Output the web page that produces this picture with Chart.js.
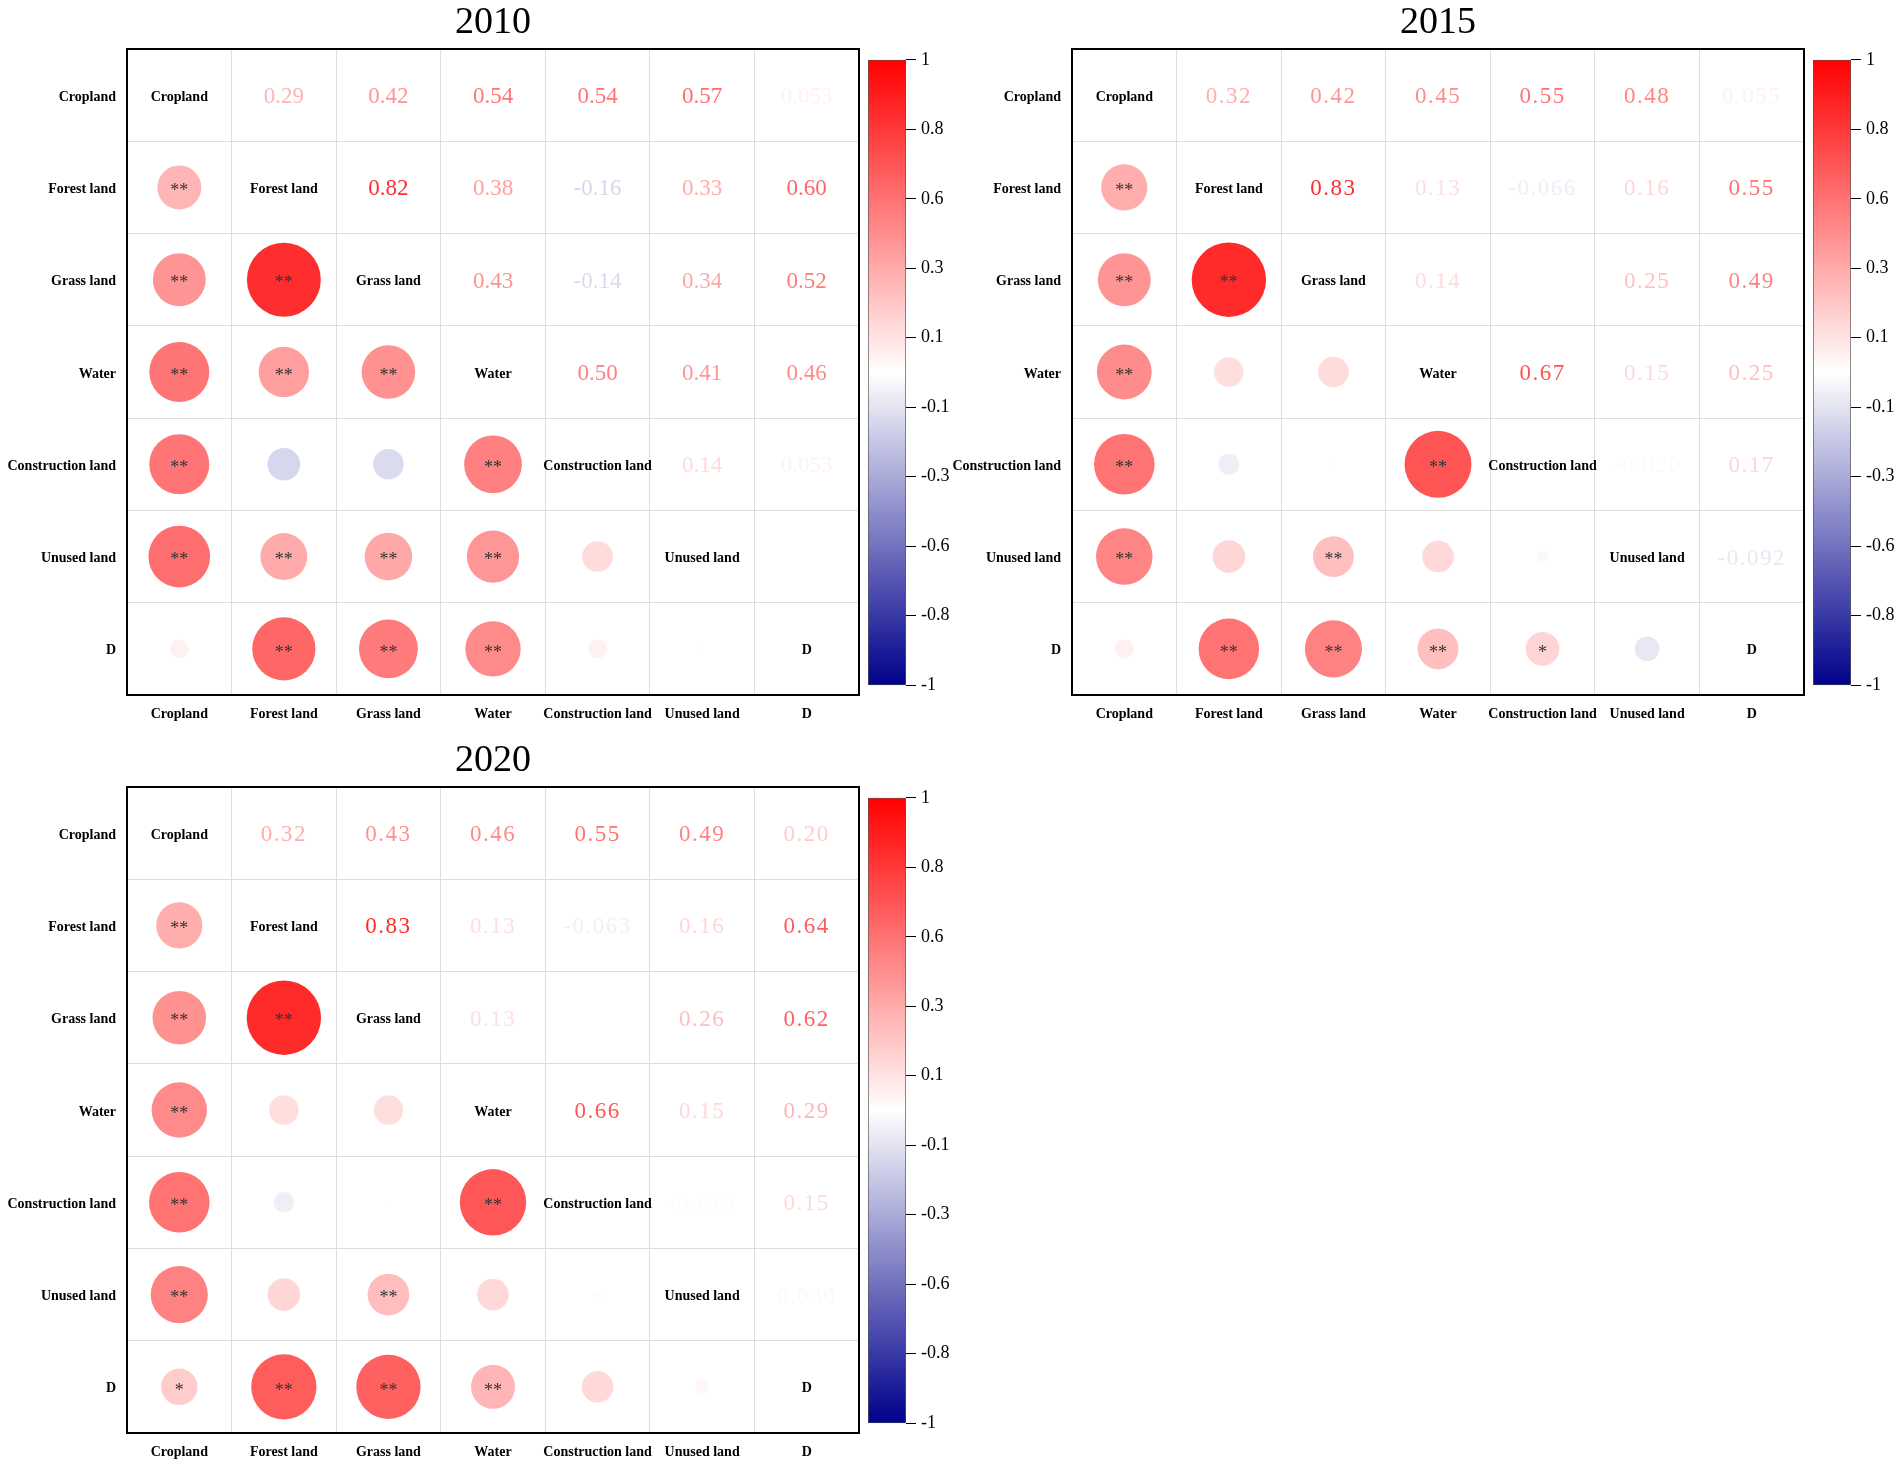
<!DOCTYPE html>
<html>
<head>
<meta charset="utf-8">
<title>Correlation matrices 2010 / 2015 / 2020</title>
<script src="https://cdn.jsdelivr.net/npm/chart.js@4.4.1/dist/chart.umd.min.js"></script>
<style>
  html, body { margin: 0; padding: 0; background: #fff; }
  body { width: 1902px; height: 1465px; position: relative; overflow: hidden; }
  .box { position: absolute; }
</style>
</head>
<body>
<script>
// ====== DATA ======
const landTypes = ["Cropland", "Forest land", "Grass land", "Water", "Construction land", "Unused land", "D"];

// upper triangle: row i holds r(i, j) for j > i
const corr2010 = [
  [0.29, 0.42, 0.54, 0.54, 0.57, 0.053],
  [0.82, 0.38, -0.16, 0.33, 0.60],
  [0.43, -0.14, 0.34, 0.52],
  [0.50, 0.41, 0.46],
  [0.14, 0.053],
  [0.003],
];
const corr2015 = [
  [0.32, 0.42, 0.45, 0.55, 0.48, 0.055],
  [0.83, 0.13, -0.066, 0.16, 0.55],
  [0.14, -0.003, 0.25, 0.49],
  [0.67, 0.15, 0.25],
  [-0.020, 0.17],
  [-0.092],
];
const corr2020 = [
  [0.32, 0.43, 0.46, 0.55, 0.49, 0.20],
  [0.83, 0.13, -0.063, 0.16, 0.64],
  [0.13, 0.003, 0.26, 0.62],
  [0.66, 0.15, 0.29],
  [-0.010, 0.15],
  [0.030],
];

// lower triangle significance marks: row i (from Forest land) holds cols j < i
const sig2010 = [
  ["**"],
  ["**", "**"],
  ["**", "**", "**"],
  ["**", "", "", "**"],
  ["**", "**", "**", "**", ""],
  ["", "**", "**", "**", "", ""],
];
const sig2015 = [
  ["**"],
  ["**", "**"],
  ["**", "", ""],
  ["**", "", "", "**"],
  ["**", "", "**", "", ""],
  ["", "**", "**", "**", "*", ""],
];
const sig2020 = [
  ["**"],
  ["**", "**"],
  ["**", "", ""],
  ["**", "", "", "**"],
  ["**", "", "**", "", ""],
  ["*", "**", "**", "**", "", ""],
];

const colorbarLabels = ["1", "0.8", "0.6", "0.3", "0.1", "-0.1", "-0.3", "-0.6", "-0.8", "-1"];

// ====== LAYOUT ======
const BOX_W = 732, BOX_H = 646, AXIS_W = 127, XAXIS_H = 40, TOP_PAD = 62;
const panels = [
  { year: "2010", corr: corr2010, sig: sig2010, left: 127, top: 49, numFont: "23px 'Liberation Serif'", spacing: "0px" },
  { year: "2015", corr: corr2015, sig: sig2015, left: 1072, top: 49, numFont: "23px 'Liberation Serif'", spacing: "1.5px" },
  { year: "2020", corr: corr2020, sig: sig2020, left: 127, top: 787, numFont: "23px 'Liberation Serif'", spacing: "1.5px" },
];

Chart.defaults.animation = false;
Chart.defaults.font.family = "'Liberation Serif', 'Times New Roman', serif";

// blue - white - red
function corrColor(v) {
  const t = Math.max(-1, Math.min(1, v));
  if (t >= 0) {
    const g = Math.round(255 * (1 - t));
    return `rgb(255,${g},${g})`;
  }
  const a = -t;
  const rg = Math.round(255 * (1 - a));
  return `rgb(${rg},${rg},${Math.round(255 - 116 * a)})`;
}

function fmt(v) {
  return v.toPrecision(2);
}

function valueAt(corr, i, j) {
  // symmetric lookup into the upper triangle
  const a = Math.min(i, j), b = Math.max(i, j);
  return corr[a][b - a - 1];
}

function lowerPoints(p) {
  const pts = [];
  for (let i = 1; i < landTypes.length; i++) {
    for (let j = 0; j < i; j++) {
      pts.push({ x: landTypes[j], y: landTypes[i], v: valueAt(p.corr, i, j) });
    }
  }
  return pts;
}

function addDiv(left, top, w, h) {
  const div = document.createElement("div");
  div.className = "box";
  div.style.left = left + "px";
  div.style.top = top + "px";
  div.style.width = w + "px";
  div.style.height = h + "px";
  const cv = document.createElement("canvas");
  div.appendChild(cv);
  document.body.appendChild(div);
  return cv;
}

const labelFont = { family: "'Liberation Serif', serif", weight: "bold", size: 14 };

function circleRadius(c) {
  if (!c.raw) return 0;
  const ys = c.chart.scales.y;
  const cell = Math.abs(ys.getPixelForValue(1) - ys.getPixelForValue(0));
  return 0.885 * (cell / 2) * Math.sqrt(Math.abs(c.raw.v));
}

function matrixPlugin(p) {
  return {
    id: "matrix" + p.year,
    afterDatasetsDraw(chart) {
      const { ctx, scales } = chart;
      const n = landTypes.length;
      ctx.save();
      ctx.textAlign = "center";
      ctx.textBaseline = "middle";
      for (let i = 0; i < n; i++) {
        for (let j = 0; j < n; j++) {
          const x = scales.x.getPixelForValue(j);
          const y = scales.y.getPixelForValue(i);
          if (i === j) {
            ctx.font = "bold 14px 'Liberation Serif'";
            ctx.fillStyle = "#000";
            ctx.letterSpacing = "0px";
            ctx.fillText(landTypes[i], x, y + 2);
          } else if (j > i) {
            const v = valueAt(p.corr, i, j);
            if (Math.abs(v) < 0.005) continue;
            ctx.font = p.numFont;
            ctx.letterSpacing = p.spacing;
            ctx.fillStyle = corrColor(v);
            ctx.fillText(fmt(v), x, y + 2);
          } else {
            const s = p.sig[i - 1][j];
            if (!s) continue;
            ctx.font = "18px 'Liberation Serif'";
            ctx.letterSpacing = "0px";
            ctx.fillStyle = "#333";
            ctx.fillText(s, x, y + 4);
          }
        }
      }
      ctx.restore();
    },
    afterDraw(chart) {
      const { ctx, chartArea: a } = chart;
      ctx.save();
      ctx.strokeStyle = "#000";
      ctx.lineWidth = 2;
      ctx.strokeRect(a.left, a.top, a.right - a.left, a.bottom - a.top);
      ctx.font = "38px 'Liberation Serif'";
      ctx.fillStyle = "#000";
      ctx.textAlign = "center";
      ctx.textBaseline = "middle";
      ctx.fillText(p.year, (a.left + a.right) / 2, a.top - 26);
      ctx.restore();
    },
  };
}

function buildMatrix(p) {
  const cv = addDiv(p.left - AXIS_W, p.top - TOP_PAD, AXIS_W + BOX_W + 4, TOP_PAD + BOX_H + XAXIS_H);
  new Chart(cv, {
    type: "scatter",
    data: {
      datasets: [
        {
          data: lowerPoints(p),
          pointStyle: "circle",
          pointBackgroundColor: (c) => (c.raw ? corrColor(c.raw.v) : "#fff"),
          pointBorderWidth: 0,
          pointRadius: circleRadius,
          pointHoverRadius: circleRadius,
        },
      ],
    },
    options: {
      responsive: true,
      maintainAspectRatio: false,
      events: [],
      layout: { padding: { top: TOP_PAD, right: 4, left: 0, bottom: 0 } },
      plugins: { legend: { display: false }, tooltip: { enabled: false } },
      scales: {
        x: {
          type: "category",
          labels: landTypes,
          offset: true,
          grid: { offset: true, color: "#dddddd", lineWidth: 1, drawTicks: false },
          border: { display: false },
          ticks: { autoSkip: false, maxRotation: 0, minRotation: 0, padding: 11, color: "#000", font: labelFont },
          afterFit: (s) => { s.height = XAXIS_H; },
        },
        y: {
          type: "category",
          labels: landTypes,
          offset: true,
          grid: { offset: true, color: "#dddddd", lineWidth: 1, drawTicks: false },
          border: { display: false },
          ticks: { autoSkip: false, padding: 11, labelOffset: 2, color: "#000", font: labelFont },
          afterFit: (s) => { s.width = AXIS_W; },
        },
      },
    },
    plugins: [matrixPlugin(p)],
  });
}

function buildColorbar(p) {
  const CB_W = 38, CB_PAD = 12, LABEL_W = 60;
  const cbH = BOX_H - 13;
  const cv = addDiv(p.left + BOX_W + 9, p.top + 7 - CB_PAD, CB_W + LABEL_W, cbH + 2 * CB_PAD);
  new Chart(cv, {
    type: "bar",
    data: {
      labels: [""],
      datasets: [
        {
          data: [[-1, 1]],
          backgroundColor: (c) => {
            const a = c.chart.chartArea;
            if (!a) return "#fff";
            const g = c.chart.ctx.createLinearGradient(0, a.bottom, 0, a.top);
            for (let k = 0; k <= 40; k++) {
              const t = k / 40;
              g.addColorStop(t, corrColor(-1 + 2 * t));
            }
            return g;
          },
          borderColor: "#555",
          borderWidth: 1,
          borderSkipped: false,
          categoryPercentage: 1,
          barPercentage: 1,
        },
      ],
    },
    options: {
      responsive: true,
      maintainAspectRatio: false,
      events: [],
      layout: { padding: { top: CB_PAD, bottom: CB_PAD, left: 0, right: 0 } },
      plugins: { legend: { display: false }, tooltip: { enabled: false } },
      scales: {
        x: { display: false },
        y: {
          position: "right",
          min: -1,
          max: 1,
          afterBuildTicks: (s) => {
            s.ticks = colorbarLabels.map((_, i) => ({ value: 1 - (2 * i) / (colorbarLabels.length - 1) }));
          },
          afterFit: (s) => { s.width = LABEL_W; },
          grid: { drawOnChartArea: false, drawTicks: true, tickLength: 10, color: "#000", lineWidth: 1 },
          border: { display: false },
          ticks: {
            callback: (v, i) => colorbarLabels[i],
            padding: 5,
            color: "#000",
            font: { family: "'Liberation Serif', serif", size: 18 },
          },
        },
      },
    },
  });
}

panels.forEach((p) => {
  buildMatrix(p);
  buildColorbar(p);
});
</script>
</body>
</html>
